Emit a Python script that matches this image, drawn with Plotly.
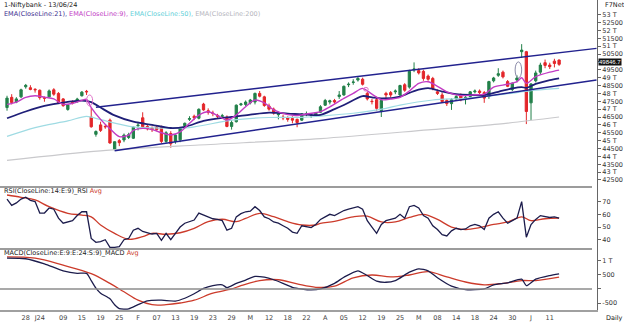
import plotly.graph_objects as go

# ---- daily candles, session index 0..118 (21 Dec 2023 .. 13 Jun 2024) ----
opens = [47100, 47750, 47450, 47780, 48420, 48360, 48260, 48200, 47750, 47780,
         48230, 48000, 47650, 46980, 47470, 47460, 47850, 48130, 46500, 45400,
         46000, 45900, 46300, 44450, 45000, 45040, 45200, 45150, 45950, 46450,
         45900, 45800, 45850, 45850, 44950, 45450, 44950, 45050, 45950, 46350,
         46550, 46420, 47320, 46900, 46750, 46600, 46550, 46500, 45900, 46200,
         47280, 47300, 47400, 47450, 48000, 47780, 47200, 47000, 46650, 46500,
         46450, 46400, 46350, 46300, 46650, 46600, 46600, 46800, 47250, 47450,
         47550, 47800, 47900, 48550, 48700, 48850, 48900, 48000, 47500, 47600,
         46900, 48000, 48050, 48100, 47900, 48550, 48400, 49500, 49450, 49400,
         49100, 48950, 48100, 47900, 47550, 47350, 47650, 47850, 47650, 47800,
         48100, 48150, 48050, 47800, 48800, 49150, 49350, 48750, 48250, 48850,
         50650, 50650, 47400, 48800, 49350, 49950, 49800, 50050, 50120]
highs = [47850, 47950, 47760, 48300, 48600, 48520, 48330, 48250, 47800, 48250,
         48330, 48080, 47700, 47300, 47560, 47720, 48150, 48220, 47070, 45650,
         46200, 46050, 46400, 44950, 45100, 45450, 45500, 45900, 46200, 46800,
         46000, 45900, 45950, 45950, 45600, 45600, 45400, 45850, 46150, 46550,
         46650, 47050, 47400, 47050, 46900, 46700, 46700, 46600, 46300, 47300,
         47400, 47550, 47650, 48050, 48150, 47850, 47350, 47100, 46850, 46650,
         46550, 46550, 46400, 46750, 46850, 46750, 46800, 47250, 47650, 47600,
         47650, 48150, 48500, 48700, 48900, 49050, 49000, 48100, 47650, 47800,
         47600, 48100, 48150, 48250, 48550, 48650, 49500, 49970, 49600, 49500,
         49200, 49050, 48250, 48050, 47650, 47700, 47900, 48000, 47950, 48150,
         48250, 48250, 48150, 48800, 49050, 49600, 49450, 48850, 48700, 49150,
         51130, 50700, 48650, 49450, 49950, 50150, 49950, 50200, 50150]
lows = [46900, 47300, 47380, 47700, 48300, 48200, 48050, 47600, 47470, 47720,
        47850, 47350, 47150, 46900, 47300, 47420, 47800, 47900, 45820, 45250,
        45550, 45750, 44800, 44400, 44650, 44900, 45100, 45100, 45650, 45750,
        45650, 45550, 45600, 44850, 44850, 44550, 44800, 44900, 45850, 46250,
        46300, 46350, 46900, 46650, 46550, 46400, 46400, 45850, 45700, 46150,
        47200, 47200, 47300, 47300, 47750, 47150, 46900, 46650, 46350, 46300,
        46200, 46100, 45850, 46250, 46550, 46450, 46500, 46750, 47200, 47300,
        47350, 47650, 47850, 48400, 48550, 48750, 48500, 47550, 47300, 46900,
        46500, 47700, 47750, 47950, 47850, 48100, 48300, 49350, 49200, 48800,
        48800, 48200, 47900, 47400, 47200, 46950, 47550, 47500, 47300, 47700,
        48000, 47900, 47400, 47650, 48700, 49050, 48950, 48400, 48150, 48700,
        50250, 46050, 46300, 48700, 49200, 49600, 49550, 49650, 49750]
closes = [47700, 47420, 47650, 48230, 48510, 48250, 48230, 47730, 47690, 48160,
          47950, 47420, 47220, 47260, 47390, 47640, 48080, 48100, 45880, 45580,
          45650, 45880, 44850, 44930, 44870, 45350, 45380, 45850, 45980, 45880,
          45750, 45700, 45700, 44950, 45500, 44800, 45350, 45780, 46100, 46400,
          46450, 46990, 46950, 46800, 46720, 46550, 46580, 45900, 46150, 47250,
          47330, 47450, 47580, 48000, 47820, 47230, 47000, 46750, 46700, 46450,
          46350, 46300, 46150, 46700, 46700, 46620, 46750, 47150, 47550, 47530,
          47450, 47900, 48450, 48580, 48720, 48950, 48580, 47650, 47480, 47050,
          47550, 47900, 47900, 48150, 48500, 48200, 49400, 49550, 49300, 48950,
          48900, 48300, 48000, 47480, 47350, 47600, 47800, 47600, 47750, 48100,
          48150, 48050, 47700, 48750, 48980, 49250, 49050, 48450, 48640, 48980,
          50750, 46850, 48600, 49300, 49800, 49780, 49700, 49900, 49846.7]
sessions = list(range(len(closes)))
last_close = closes[-1]

# ---- moving averages (session index, level) ----
ema21_x = [0, 4, 8, 12, 16, 18, 20, 23, 27, 31, 35, 38, 42, 46, 48, 52, 56, 60,
           64, 67, 70, 72, 76, 78, 80, 84, 87, 90, 93, 96, 99, 102, 105, 108,
           110, 111, 113, 116, 118]
ema21_y = [46420, 46850, 47200, 47420, 47540, 47450, 47100, 46600, 46200, 46000,
           45800, 45880, 46250, 46450, 46500, 46650, 46780, 46720, 46650, 46640,
           47000, 47260, 47830, 47750, 47680, 47800, 48150, 48330, 48120, 47950,
           47900, 47900, 48100, 48320, 48400, 48350, 48600, 48850, 48960]
ema9_x = [0, 2, 4, 6, 8, 10, 12, 14, 16, 17, 18, 20, 22, 24, 26, 27, 29, 31, 33,
          35, 37, 39, 41, 43, 45, 47, 49, 51, 53, 55, 57, 60, 62, 64, 67, 69, 72,
          74, 76, 78, 80, 82, 84, 86, 88, 90, 92, 94, 97, 100, 102, 104, 107, 109,
          110, 111, 113, 116, 118]
ema9_y = [47300, 47450, 47750, 47850, 47760, 47650, 47300, 47370, 47560, 47620,
          47100, 46350, 45750, 45250, 45350, 45650, 45780, 45700, 45500, 45360,
          45560, 46100, 46620, 46830, 46600, 46300, 46620, 47150, 47580, 47400,
          46950, 46650, 46600, 46690, 46840, 47150, 47690, 48000, 48320, 47950,
          47600, 47640, 47750, 48150, 48640, 48740, 48450, 48100, 47860, 47910,
          47950, 48400, 48580, 48750, 48990, 48640, 49060, 49350, 49480]
ema50_x = [0, 6, 13, 17, 20, 27, 33, 39, 48, 56, 63, 67, 74, 81, 84, 91, 98, 105,
           113, 118]
ema50_y = [45270, 45830, 46250, 46540, 46330, 45870, 45790, 45830, 46300, 46470,
           46480, 46560, 46740, 47050, 47260, 47580, 47690, 47900, 48200, 48320]
ema200_x = [0, 20, 41, 67, 90, 105, 118]
ema200_y = [43750, 44350, 44720, 45130, 45680, 46050, 46500]

# ---- channel trendlines (session index, level) ----
upper_x = [19, 126]
upper_y = [47120, 50860]
lower_x = [23, 126]
lower_y = [44360, 48850]

# ---- highlight ovals: (session from, session to, level low, level high, colour) ----
ovals = [(17.0, 18.3, 47200, 47900, "#e070c8"),
         (76.2, 77.2, 48150, 48380, "#e070c8"),
         (108.6, 110.0, 48980, 50000, "#8a8aa8")]

# ---- RSI(14) and its 9-period average ----
rsi = [72, 67, 69, 72, 73.5, 71, 70, 61, 61, 65, 64, 57, 53, 54, 55, 59, 62, 62,
       41, 38, 38.5, 40, 34, 34, 34.5, 40, 41, 47.5, 49, 46.5, 45.5, 44.5, 45,
       39.5, 45, 40, 45, 50, 53, 54.5, 55.5, 61, 59.5, 58, 56.5, 56, 55, 47.5,
       49, 58, 60.5, 62, 62.5, 66, 63, 58, 56.5, 54, 53, 51, 49, 46, 45, 51, 50.5,
       49.5, 52, 56, 58, 60, 59, 61, 63, 64, 65, 66, 64, 55, 50, 45, 52, 55, 56,
       57, 60, 57, 66, 67, 65, 59, 57, 51, 48, 44, 43, 47, 49, 48, 48.5, 51, 52,
       51, 48, 57, 60, 62, 57, 53, 55, 57, 70, 42, 52, 56, 59, 58, 57.5, 58, 57]
rsi_avg_x = [0, 3, 6, 9, 13, 16, 18, 20, 23, 26, 29, 31, 34, 37, 40, 43, 46, 49,
             51, 54, 57, 60, 63, 66, 67, 70, 74, 77, 80, 83, 86, 89, 92, 95, 98,
             101, 104, 107, 110, 112, 115, 118]
rsi_avg_y = [75.2, 73.4, 71.3, 66, 60.8, 59.4, 58, 51.6, 45, 40.3, 42.4, 45,
             44.3, 45.5, 49, 54.2, 56.1, 54.2, 56.8, 60.8, 58.1, 54.2, 51.6, 51.6,
             52.9, 54.5, 58, 58.5, 54, 54, 57.5, 60, 56, 50, 48, 49.5, 52, 54,
             58, 55, 56.5, 57]

# ---- MACD(9,24) and signal(9) ----
macd_x = [0, 4, 8, 12, 15, 17, 18, 19, 20, 22, 23, 24, 26, 28, 30, 33, 36, 38,
          40, 42, 44, 46, 47, 49, 51, 53, 55, 57, 59, 61, 63, 65, 67, 70, 72, 75,
          77, 79, 81, 83, 86, 88, 90, 92, 95, 98, 102, 104, 107, 110, 111, 113,
          116, 118]
macd_y = [1100, 1080, 900, 650, 560, 560, 300, 30, -150, -350, -560, -700, -710,
          -560, -420, -400, -430, -330, -170, 20, 120, 150, 50, 200, 320, 450,
          420, 330, 200, 60, 0, -30, 0, 200, 420, 650, 480, 280, 240, 300, 600,
          720, 650, 400, 100, -20, 0, 150, 220, 350, 120, 350, 480, 540]
signal_x = [0, 6, 12, 18, 22, 25, 28, 31, 34, 37, 40, 44, 48, 50, 54, 58, 62, 66,
            70, 74, 78, 82, 86, 90, 94, 98, 102, 106, 110, 113, 118]
signal_y = [1150, 1100, 850, 550, 200, -100, -400, -560, -560, -500, -400, -150,
            0, 120, 300, 330, 180, 60, 100, 400, 500, 430, 500, 620, 430, 250,
            150, 200, 300, 300, 420]

# ---- bottom axis labels ----
tick_pos = [4, 7, 12, 16, 20, 24, 28, 32, 36, 40, 44, 48, 52, 56, 60, 64, 68, 72,
            76, 80, 84, 88, 92, 96, 100, 104, 108, 112, 116]
tick_txt = ["28", "J24", "09", "15", "19", "25", "F", "07", "13", "19", "23",
            "29", "M", "12", "18", "22", "A", "05", "12", "19", "25", "M", "08",
            "14", "18", "24", "30", "J", "11"]
price_ticks = list(range(42500, 53001, 500))
# the 50 T label sits under the last-price tag, so it is left blank
price_text = ["" if v == 50000 else (f"{v // 1000} T" if v % 1000 == 0 else str(v))
              for v in price_ticks]

GREEN = "#23804a"
RED = "#e3262a"
NAVY = "#1f1f78"
MAGENTA = "#c23cc4"
CYAN = "#9fdbe3"
GREY = "#c9c9cc"
RSI_C = "#1c1c4c"
AVG_C = "#cc3b2b"
FONT = "DejaVu Sans"

W, H = 624, 323
MR, MB = 27, 13
PW, PH = W - MR, H - MB
Y_PRICE, Y_RSI = 187, 249  # panel boundaries, px from top


def py(px_from_top):
    return 1 - px_from_top / PH


fig = go.Figure()

for xs, ys, col, wd in [(ema200_x, ema200_y, GREY, 1.2),
                        (ema50_x, ema50_y, CYAN, 1.2),
                        (ema21_x, ema21_y, NAVY, 1.8),
                        (ema9_x, ema9_y, MAGENTA, 1.4)]:
    fig.add_trace(go.Scatter(x=xs, y=ys, mode="lines", yaxis="y",
                             line=dict(color=col, width=wd, shape="spline",
                                       smoothing=0.8),
                             hoverinfo="skip", showlegend=False))

for xs, ys in [(upper_x, upper_y), (lower_x, lower_y)]:
    fig.add_trace(go.Scatter(x=xs, y=ys, mode="lines", yaxis="y",
                             line=dict(color="#22228e", width=1.5),
                             hoverinfo="skip", showlegend=False))

fig.add_trace(go.Candlestick(
    x=sessions, open=opens, high=highs, low=lows, close=closes, yaxis="y",
    increasing=dict(line=dict(color=GREEN, width=1), fillcolor=GREEN),
    decreasing=dict(line=dict(color=RED, width=1), fillcolor=RED),
    whiskerwidth=0, hoverinfo="skip", showlegend=False))

fig.add_trace(go.Scatter(x=rsi_avg_x, y=rsi_avg_y, mode="lines", yaxis="y2",
                         line=dict(color=AVG_C, width=1.3, shape="spline"),
                         hoverinfo="skip", showlegend=False))
fig.add_trace(go.Scatter(x=sessions, y=rsi, mode="lines", yaxis="y2",
                         line=dict(color=RSI_C, width=1.3),
                         hoverinfo="skip", showlegend=False))
fig.add_trace(go.Scatter(x=signal_x, y=signal_y, mode="lines", yaxis="y3",
                         line=dict(color=AVG_C, width=1.3, shape="spline"),
                         hoverinfo="skip", showlegend=False))
fig.add_trace(go.Scatter(x=macd_x, y=macd_y, mode="lines", yaxis="y3",
                         line=dict(color=RSI_C, width=1.3, shape="spline",
                                   smoothing=0.6),
                         hoverinfo="skip", showlegend=False))

yax_common = dict(side="right", showgrid=False, zeroline=False, showline=True,
                  linecolor="#666", linewidth=1, ticks="outside", ticklen=3,
                  tickcolor="#666", tickfont=dict(family=FONT, size=6.5,
                                                  color="#333"),
                  anchor="x", fixedrange=True)

shapes = [
    dict(type="line", xref="paper", yref="paper", x0=0, x1=592 / PW,
         y0=py(Y_PRICE), y1=py(Y_PRICE), line=dict(color="#9c9c9c", width=2)),
    dict(type="line", xref="paper", yref="paper", x0=0, x1=592 / PW,
         y0=py(Y_RSI), y1=py(Y_RSI), line=dict(color="#9c9c9c", width=2)),
    dict(type="line", xref="paper", yref="y3", x0=0, x1=592 / PW,
         y0=0, y1=0, line=dict(color="#8c8c8c", width=1.5)),
]
for x0, x1, y0, y1, col in ovals:
    shapes.append(dict(type="circle", xref="x", yref="y", x0=x0, x1=x1,
                       y0=y0, y1=y1, line=dict(color=col, width=1)))

fig.update_layout(
    width=W, height=H, margin=dict(l=0, r=MR, t=0, b=MB),
    paper_bgcolor="white", plot_bgcolor="white",
    xaxis=dict(range=[-1.5, 126.1], showgrid=False, zeroline=False,
               tickvals=tick_pos, ticktext=tick_txt, ticks="", showline=True,
               linecolor="#a0a0a0", linewidth=1.5, anchor="y3",
               rangeslider=dict(visible=False),
               tickfont=dict(family=FONT, size=6.5, color="#444")),
    yaxis=dict(domain=[py(Y_PRICE), 1], range=[42053, 53934],
               tickvals=price_ticks, ticktext=price_text, **yax_common),
    yaxis2=dict(domain=[py(Y_RSI), py(Y_PRICE)], range=[32.7, 81.5],
                tickvals=[40, 50, 60, 70], **yax_common),
    yaxis3=dict(domain=[0, py(Y_RSI)], range=[-750, 1428],
                tickvals=[-500, 0, 500, 1000], ticktext=["-500", "", "500", "1 T"],
                **yax_common),
    shapes=shapes,
)

ann_font = dict(family=FONT, size=6.5, color="#222")
ema_title = ("<span style='color:#3b2f8f'>EMA(CloseLine:21), </span>"
             "<span style='color:#c23cc4'>EMA(CloseLine:9), </span>"
             "<span style='color:#62cfd8'>EMA(CloseLine:50), </span>"
             "<span style='color:#b5b5bd'>EMA(CloseLine:200)</span>")
labels = [
    (2, 5, "1-Niftybank - 13/06/24", "left"),
    (2, 13.5, ema_title, "left"),
    (2, 190.5, "RSI(CloseLine:14:E:9)_RSI <span style='color:#cc3b2b'>Avg</span>", "left"),
    (2, 252.5, "MACD(CloseLine:E:9:E:24:S:9)_MACD <span style='color:#cc3b2b'>Avg</span>", "left"),
    (603, 5, "F7Net", "left"),
    (604, 318, "Daily", "left"),
]
for x_px, y_px, txt, anc in labels:
    fig.add_annotation(x=x_px / PW, y=py(y_px), xref="paper", yref="paper",
                       text=txt, showarrow=False, xanchor=anc, yanchor="middle",
                       font=ann_font)

# last-price tag on the price scale
fig.add_annotation(x=598 / PW, y=last_close, xref="paper", yref="y",
                   text=f"{last_close:.1f}", showarrow=False, xanchor="left",
                   yanchor="middle", yshift=2, bgcolor="#111", borderpad=0,
                   font=dict(family="Liberation Sans", size=6, color="white"))

fig.write_html("out.html")
